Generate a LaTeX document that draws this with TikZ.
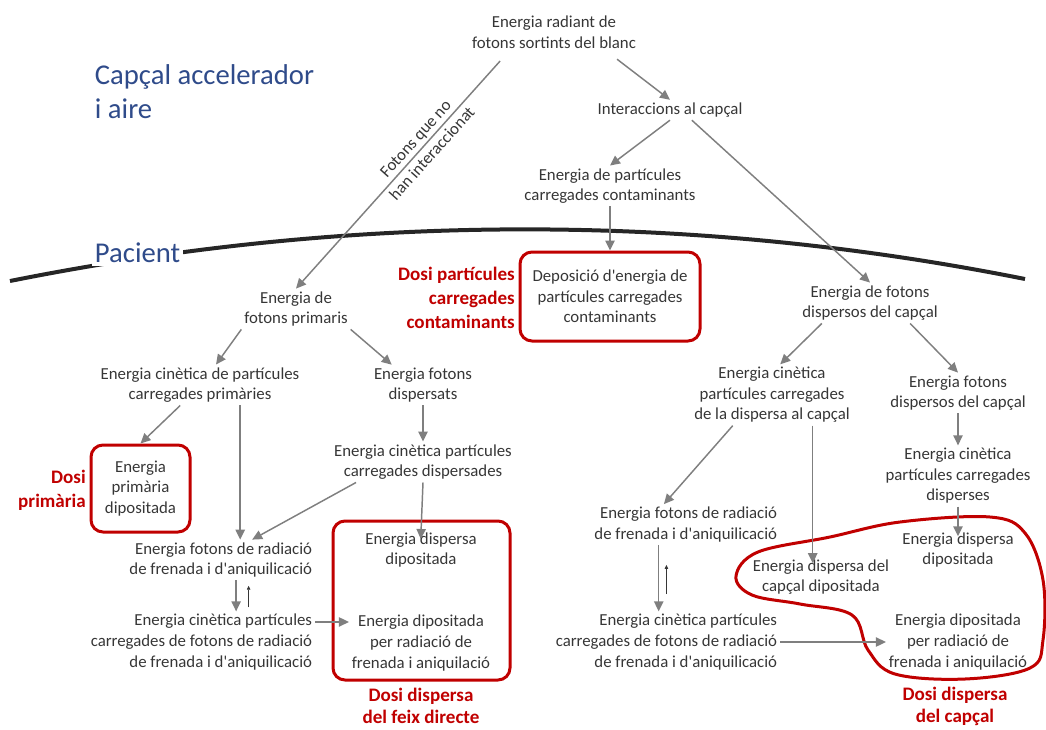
\documentclass[tikz,border=0pt]{standalone}
\usepackage{fontspec}
\setmainfont{Carlito}
\usetikzlibrary{arrows.meta}
\definecolor{dosired}{HTML}{C00000}
\definecolor{zoneblue}{HTML}{2F4B8A}
\definecolor{txtgray}{HTML}{363636}
\definecolor{arrgray}{HTML}{7F7F7F}
\begin{document}
\begin{tikzpicture}[
        x=0.75pt, y=0.75pt,
        txt/.style={font=\fontsize{12.6}{15.4}\selectfont, text=txtgray, align=center, inner sep=2pt},
        dose/.style={font=\bfseries\fontsize{14.3}{18}\selectfont, text=dosired, align=center, inner sep=0pt},
        lowdose/.style={dose, font=\bfseries\fontsize{14.3}{16.5}\selectfont},
        zone/.style={font=\fontsize{21.5}{25.5}\selectfont, text=zoneblue, align=left, inner sep=2pt},
        dosebox/.style={rectangle, rounded corners=9pt, draw=dosired, line width=2.25pt},
        arr/.style={-{Triangle[length=7.5pt, width=7pt]}, draw=arrgray, line width=1.1pt},
        tinyarr/.style={-{Triangle[length=3pt, width=2.6pt]}, draw=txtgray, line width=0.6pt, shorten <=3pt, shorten >=4pt}
    ]
    \useasboundingbox (0,0) rectangle (1046,-729);
    % skin line
    \draw[line width=3pt, black!85] (10,-281) .. controls (350,-213) and (690,-212) .. (1025,-279);
    \node[zone, anchor=west] (acc) at (92,-92) {Capçal accelerador\\ i aire};
    \node[zone, anchor=west, fill=white] (pac) at (92,-253) {Pacient};
    % head
    \node[txt] (src) at (554,-32) {Energia radiant de\\ fotons sortints del blanc};
    \node[txt] (head) at (670,-110) {Interaccions al capçal};
    \node[txt] (contam) at (610,-186) {Energia de partícules\\ carregades contaminants};
    \node[txt, dosebox, minimum width=135pt, minimum height=66.75pt] (depo) at (610,-296.5) {Deposició d\textquotesingle energia de\\ partícules carregades\\ contaminants};
    \node[dose, anchor=east, align=right] (ldepo) at (515,-298) {Dosi partícules\\ carregades\\ contaminants};
    \node[txt] (scat) at (870,-303) {Energia de fotons\\ dispersos del capçal};
    % direct beam
    \node[txt] (prim) at (296,-309) {Energia de\\ fotons primaris};
    \node[txt] (cprim) at (200,-385) {Energia cinètica de partícules\\ carregades primàries};
    \node[txt] (disp) at (423,-385) {Energia fotons\\ dispersats};
    \node[txt, dosebox, minimum width=74.25pt, minimum height=65.25pt] (dprim) at (140.5,-488.5) {Energia\\ primària\\ dipositada};
    \node[dose, anchor=east, align=right] (lprim) at (86,-490) {Dosi\\ primària};
    \node[txt] (sdisp) at (423,-462) {Energia cinètica partícules\\ carregades dispersades};
    \node[txt, align=right, anchor=east] (brem) at (315,-560) {Energia fotons de radiació\\ de frenada i d\textquotesingle aniquilicació};
    \node[txt, align=right, anchor=east] (cbrem) at (315,-642) {Energia cinètica partícules\\ carregades de fotons de radiació\\ de frenada i d\textquotesingle aniquilicació};
    \node[dosebox, minimum width=132.75pt, minimum height=119.25pt] (dfeix) at (421.5,-600.5) {};
    \node[txt, inner sep=0pt] (dfa) at (421,-550) {Energia dispersa\\ dipositada};
    \node[txt] (dfb) at (421,-643) {Energia dipositada\\ per radiació de\\ frenada i aniquilació};
    \node[lowdose] (lfeix) at (421,-706) {Dosi dispersa\\ del feix directe};
    % head scatter
    \node[txt] (ckap) at (772,-395) {Energia cinètica\\ partícules carregades\\ de la dispersa al capçal};
    \node[txt] (fhead) at (958,-393) {Energia fotons\\ dispersos del capçal};
    \node[txt] (cfh) at (958,-476) {Energia cinètica\\ partícules carregades\\ disperses};
    \node[txt, inner sep=0pt] (dd) at (958,-550) {Energia dispersa\\ dipositada};
    \node[txt, inner sep=0pt] (dkap) at (821,-577) {Energia dispersa del\\ capçal dipositada};
    \node[txt] (ddep) at (958,-642) {Energia dipositada\\ per radiació de\\ frenada i aniquilació};
    \node[txt, align=right, anchor=east] (brem2) at (780,-524.5) {Energia fotons de radiació\\ de frenada i d\textquotesingle aniquilicació};
    \node[txt, align=right, anchor=east] (cbrem2) at (780,-642) {Energia cinètica partícules\\ carregades de fotons de radiació\\ de frenada i d\textquotesingle aniquilicació};
    \node[lowdose] (lkap) at (955,-706) {Dosi dispersa\\ del capçal};
    \draw[dosired, line width=2.25pt] plot[smooth cycle, tension=0.6] coordinates {(736,-576) (758,-552) (830,-537) (900,-522) (990,-517) (1025,-533) (1043,-580) (1043,-640) (1030,-668) (965,-679) (895,-674) (868,-650) (852,-615) (800,-604) (752,-595)};
    % arrows
    \draw[arr, shorten <=10pt] (src.-20) -- (head.north);
    \draw[arr] (head.south) -- (contam.north);
    \draw[arr] (head.-25) -- (scat.north);
    \draw[arr] (contam.south) -- (depo.north);
    \draw[arr, shorten <=10pt] (src.-157) -- node[txt, sloped, pos=0.4, font=\fontsize{12.6}{16.5}\selectfont] {Fotons que no\\ han interaccionat} (prim.north);
    \draw[arr] (prim.south west) -- (cprim.52);
    \draw[arr] (prim.south east) -- (disp.147);
    \draw[arr] (cprim.-134) -- (dprim.north);
    \draw[arr] (cprim.-27) -- (cprim.-27 |- brem.north);
    \draw[arr] (disp.south) -- (sdisp.north);
    \draw[arr] (sdisp.-163) -- (brem.33);
    \draw[arr, shorten >=-5pt] (sdisp.south) -- (dfa.north);
    \draw[arr] (brem.-53) -- (brem.-53 |- cbrem.north);
    \draw[tinyarr] (cbrem.33) -- (cbrem.33 |- brem.south);
    \draw[arr] (cbrem.10) -- (cbrem.10 -| dfb.west);
    \draw[arr] (scat.-157) -- (ckap.75);
    \draw[arr] (scat.-27) -- (fhead.north);
    \draw[arr] (fhead.south) -- (cfh.north);
    \draw[arr, shorten >=-3pt] (cfh.south) -- (dd.north);
    \draw[arr, shorten >=-3pt] (ckap.-37) -- (ckap.-37 |- dkap.north);
    \draw[arr] (ckap.-142) -- (brem2.137);
    \draw[arr] (brem2.-143) -- (brem2.-143 |- cbrem2.north);
    \draw[tinyarr, shorten <=13pt, shorten >=15pt] (cbrem2.north) -- (cbrem2.north |- brem2.south);
    \draw[arr] (cbrem2.east) -- (ddep.west);
\end{tikzpicture}
\end{document}
